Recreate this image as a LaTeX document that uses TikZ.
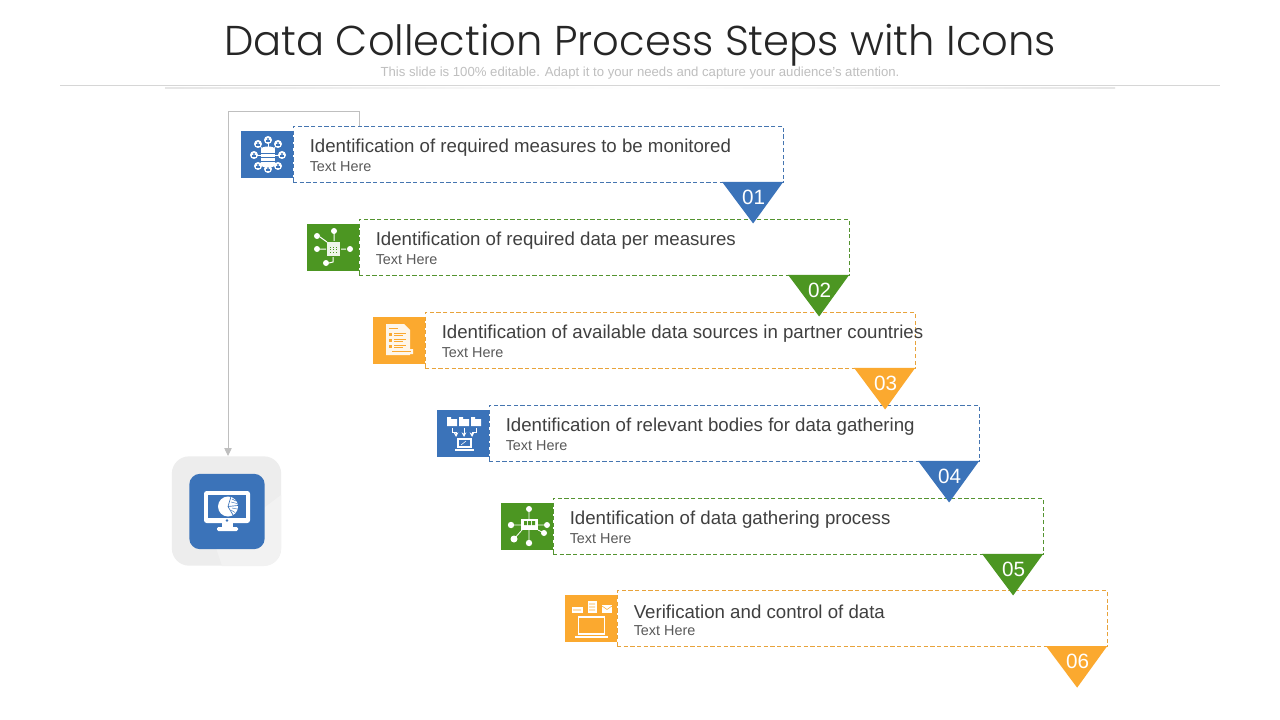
\documentclass[tikz,border=0pt]{standalone}
\usepackage{fontspec}
\setmainfont{Liberation Sans}
\newfontfamily\titlefont{Poppins Light}
\usetikzlibrary{arrows.meta,calc}
\definecolor{cblue}{HTML}{3B73B9}
\definecolor{cgreen}{HTML}{4C9622}
\definecolor{corange}{HTML}{FBA92F}
\definecolor{ctext}{HTML}{404040}
\definecolor{csub}{HTML}{595959}
\definecolor{cgray}{HTML}{BFBFBF}
\tikzset{
  x=0.75pt,y=-0.75pt,
  stepbox/.style={draw=#1!85!gray,fill=white,dash pattern=on 3.2pt off 1.8pt,line width=0.6pt,rectangle,minimum width=367.6pt,minimum height=41.6pt,inner sep=0pt,outer sep=0pt},
  iconbox/.style={fill=#1,rectangle,minimum width=38.8pt,minimum height=35pt,inner sep=0pt,outer sep=0pt},
  headtext/.style={text=ctext,anchor=west,inner sep=0pt,font=\fontsize{14}{16}\selectfont},
  subtext/.style={text=csub,anchor=west,inner sep=0pt,font=\fontsize{10.8}{13}\selectfont},
  numtext/.style={text=white,inner sep=0pt,font=\fontsize{15.5}{17}\selectfont},
  ic/.style={white,line width=0.75pt},
}
\newcommand{\stepitem}[5]{% id, color, box x left, box y top, head
  \node[iconbox=#2,anchor=east] (icon#1) at (#3,#4+27.8) {};
  \node[stepbox=#2,anchor=north west] (box#1) at (#3,#4) {};
  \node[headtext] (head#1) at (#3+16.5,#4+20.8) {#5};
  \node[subtext] (sub#1) at (#3+16.5,#4+40.3) {Text Here};
}
\newcommand{\steptri}[3]{% id, color, num
  \fill[#2] ($(box#1.south east)+(-61,0)$) -- (box#1.south east) -- ($(box#1.south east)+(-30,41.5)$) -- cycle;
  \node[numtext] (num#1) at ($(box#1.south east)+(-29.5,15)$) {#3};
}
\begin{document}
\begin{tikzpicture}
\useasboundingbox (0,0) rectangle (1280,720);
\fill[white] (0,0) rectangle (1280,720);
% header
\node[inner sep=0pt,anchor=base,text=black!85,font=\titlefont\fontsize{31.25}{38}\selectfont] (title) at (640,56) {Data Collection Process Steps with Icons};
\node[inner sep=0pt,text=cgray,font=\fontsize{9.87}{11}\selectfont] (subtitle) at (640,73) {This slide is 100\% editable. Adapt it to your needs and capture your audience's attention.};
\fill[black!16] (60,84.9) rectangle (1220,85.6);
\shade[left color=black!10,right color=white] (165,88) rectangle (640,88.7);
\shade[right color=black!10,left color=white] (640,88) rectangle (1115,88.7);
% big icon
\node[fill=black!7,rounded corners=13pt,minimum size=82pt,inner sep=0pt] (bigouter) at (226.5,511) {};
\begin{scope}
\clip[rounded corners=13pt] (172,456) rectangle (281,566);
\fill[black!5] (281,495) -- (281,566) -- (222,566) -- (215,545) -- cycle;
\end{scope}
\node[fill=cblue,rounded corners=8pt,minimum size=56.5pt,inner sep=0pt] (bigicon) at (227,511.5) {};
\fill[white,rounded corners=2pt] (204,491) rectangle (250,523);
\fill[cblue] (208,495) rectangle (246,518);
\fill[white] (222,523) rectangle (233,527);
\fill[white,rounded corners=1pt] (217,527) rectangle (238,531);
\fill[cblue] (227,520.5) circle (1.3);
\fill[white] (228,506.5) circle (10);
\draw[cblue,line width=0.5pt] (228,506.5) -- (231,496.5) (228,506.5) -- (238,505.5) (228,506.5) -- (233,515);
\draw[cblue,line width=0.35pt] (232,499) -- (236,501) (231,502) -- (237,503.5) (232,508) -- (237,509) (231,510) -- (235,512.5);
% connector
\coordinate (start) at (359,126);
\draw[cgray,line width=0.75pt,-{Triangle[length=6pt,width=5.5pt]}] (start) -- (359,111.5) -- (228,111.5) -- (bigouter.north -| 228,0);
% steps
\stepitem{1}{cblue}{293}{126.5}{Identification of required measures to be monitored}
\stepitem{2}{cgreen}{359}{219.5}{Identification of required data per measures}
\stepitem{3}{corange}{425}{312.5}{Identification of available data sources in partner countries}
\stepitem{4}{cblue}{489}{405.5}{Identification of relevant bodies for data gathering}
\stepitem{5}{cgreen}{553}{498.5}{Identification of data gathering process}
\stepitem{6}{corange}{617}{590.7}{Verification and control of data}
\steptri{1}{cblue}{01}
\steptri{2}{cgreen}{02}
\steptri{3}{corange}{03}
\steptri{4}{cblue}{04}
\steptri{5}{cgreen}{05}
\steptri{6}{corange}{06}
% icon 1
\foreach \a/\b in {268/140,258/144,278/144,254/155,282/155,258/166,278/166,268/169}{
  \draw[ic,line width=0.4pt] (268,155) -- (\a,\b);
  \fill[white] (\a,\b) circle (4);
  \fill[cblue] (\a,\b-1) circle (1.2);
  \fill[cblue] (\a-2,\b+2.2) rectangle (\a+2,\b+0.5);
}
\fill[white] (261,149) rectangle (275,165);
\fill[white] (268,149) ellipse (7 and 2.5);
\fill[white] (268,165) ellipse (7 and 2.5);
\draw[cblue,line width=0.5pt] (261,153) -- (275,153) (261,157) -- (275,157) (261,161) -- (275,161);
% icon 2
\fill[white!90!cgreen] (327,242) rectangle (340,256);
\draw[cgreen,line width=0.3pt,dotted] (330,247) -- (337,247) (330,249.5) -- (337,249.5) (330,252) -- (337,252);
\foreach \a/\b in {317/236,334/231,317/249,350/249,326/263}{\fill[white] (\a,\b) circle (3);}
\draw[ic] (320,237) -- (327,242) (334,233) -- (334,241) (320,249) -- (326,249) (346,249) -- (341,249) (329,263) -- (333,262) -- (333,257);
% icon 3
\fill[white!90!corange] (386,324) -- (404,324) -- (410,330) -- (410,355) -- (386,355) -- cycle;
\foreach \y in {333,339,345}{\fill[corange] (389,\y) rectangle (392,\y+3);\draw[corange,line width=0.5pt] (394,\y+0.5) -- (406,\y+0.5) (394,\y+2.5) -- (403,\y+2.5);}
\draw[corange,line width=0.5pt] (389,328) -- (398,328);
\fill[white!90!corange] (388,351) -- (392,349) -- (413,349) -- (413,354) -- (392,354) -- cycle;
\draw[corange,line width=0.4pt] (392,351.5) -- (411,351.5);
% icon 4
\foreach \a in {452,464,476}{
  \fill[white] (\a-5,417) rectangle (\a-1,419) (\a-5,419) rectangle (\a+5,426);
}
\draw[ic,-{Stealth[length=3.5pt,width=3.5pt]}] (464,428) -- (464,437);
\draw[ic,-{Stealth[length=3.5pt,width=3.5pt]}] (452,428) -- (452,432) -- (456,432) -- (456,437);
\draw[ic,-{Stealth[length=3.5pt,width=3.5pt]}] (476,428) -- (476,432) -- (472,432) -- (472,437);
\fill[white] (457,438) rectangle (472,448);
\fill[white] (455,449) rectangle (474,451);
\fill[cblue] (459,440) rectangle (470,446);
\draw[ic,line width=0.4pt] (461,445) -- (466,441);
% icon 5
\draw[ic,line width=0.6pt] (529,509) -- (529,543) (511,525) -- (547,525) (514,539) -- (522,530) (544,533) -- (538,530);
\foreach \a/\b/\r in {529/509/3,511/525/3.2,547/525/3,514/539/3.5,529/543/3.2,544/533/3}{\fill[white] (\a,\b) circle (\r);}
\fill[white] (521,519) rectangle (538,530);
\fill[cgreen] (524,521) rectangle (527,525) (528,521) rectangle (531,525) (532,521) rectangle (535,525);
% icon 6
\draw[white,line width=1pt] (578.5,617) rectangle (604.5,634);
\fill[white] (575,635.5) rectangle (608,638);
\fill[white] (571.5,607) rectangle (582.5,613);
\fill[white] (587.5,601) rectangle (596.5,613);
\fill[white] (602,605) rectangle (612,613);
\draw[corange,line width=0.4pt] (573,610) -- (581,610) (589,604) -- (595,604) (589,607) -- (595,607) (589,610) -- (595,610) (602,606) -- (607,609.5) -- (612,606);
\end{tikzpicture}
\end{document}
